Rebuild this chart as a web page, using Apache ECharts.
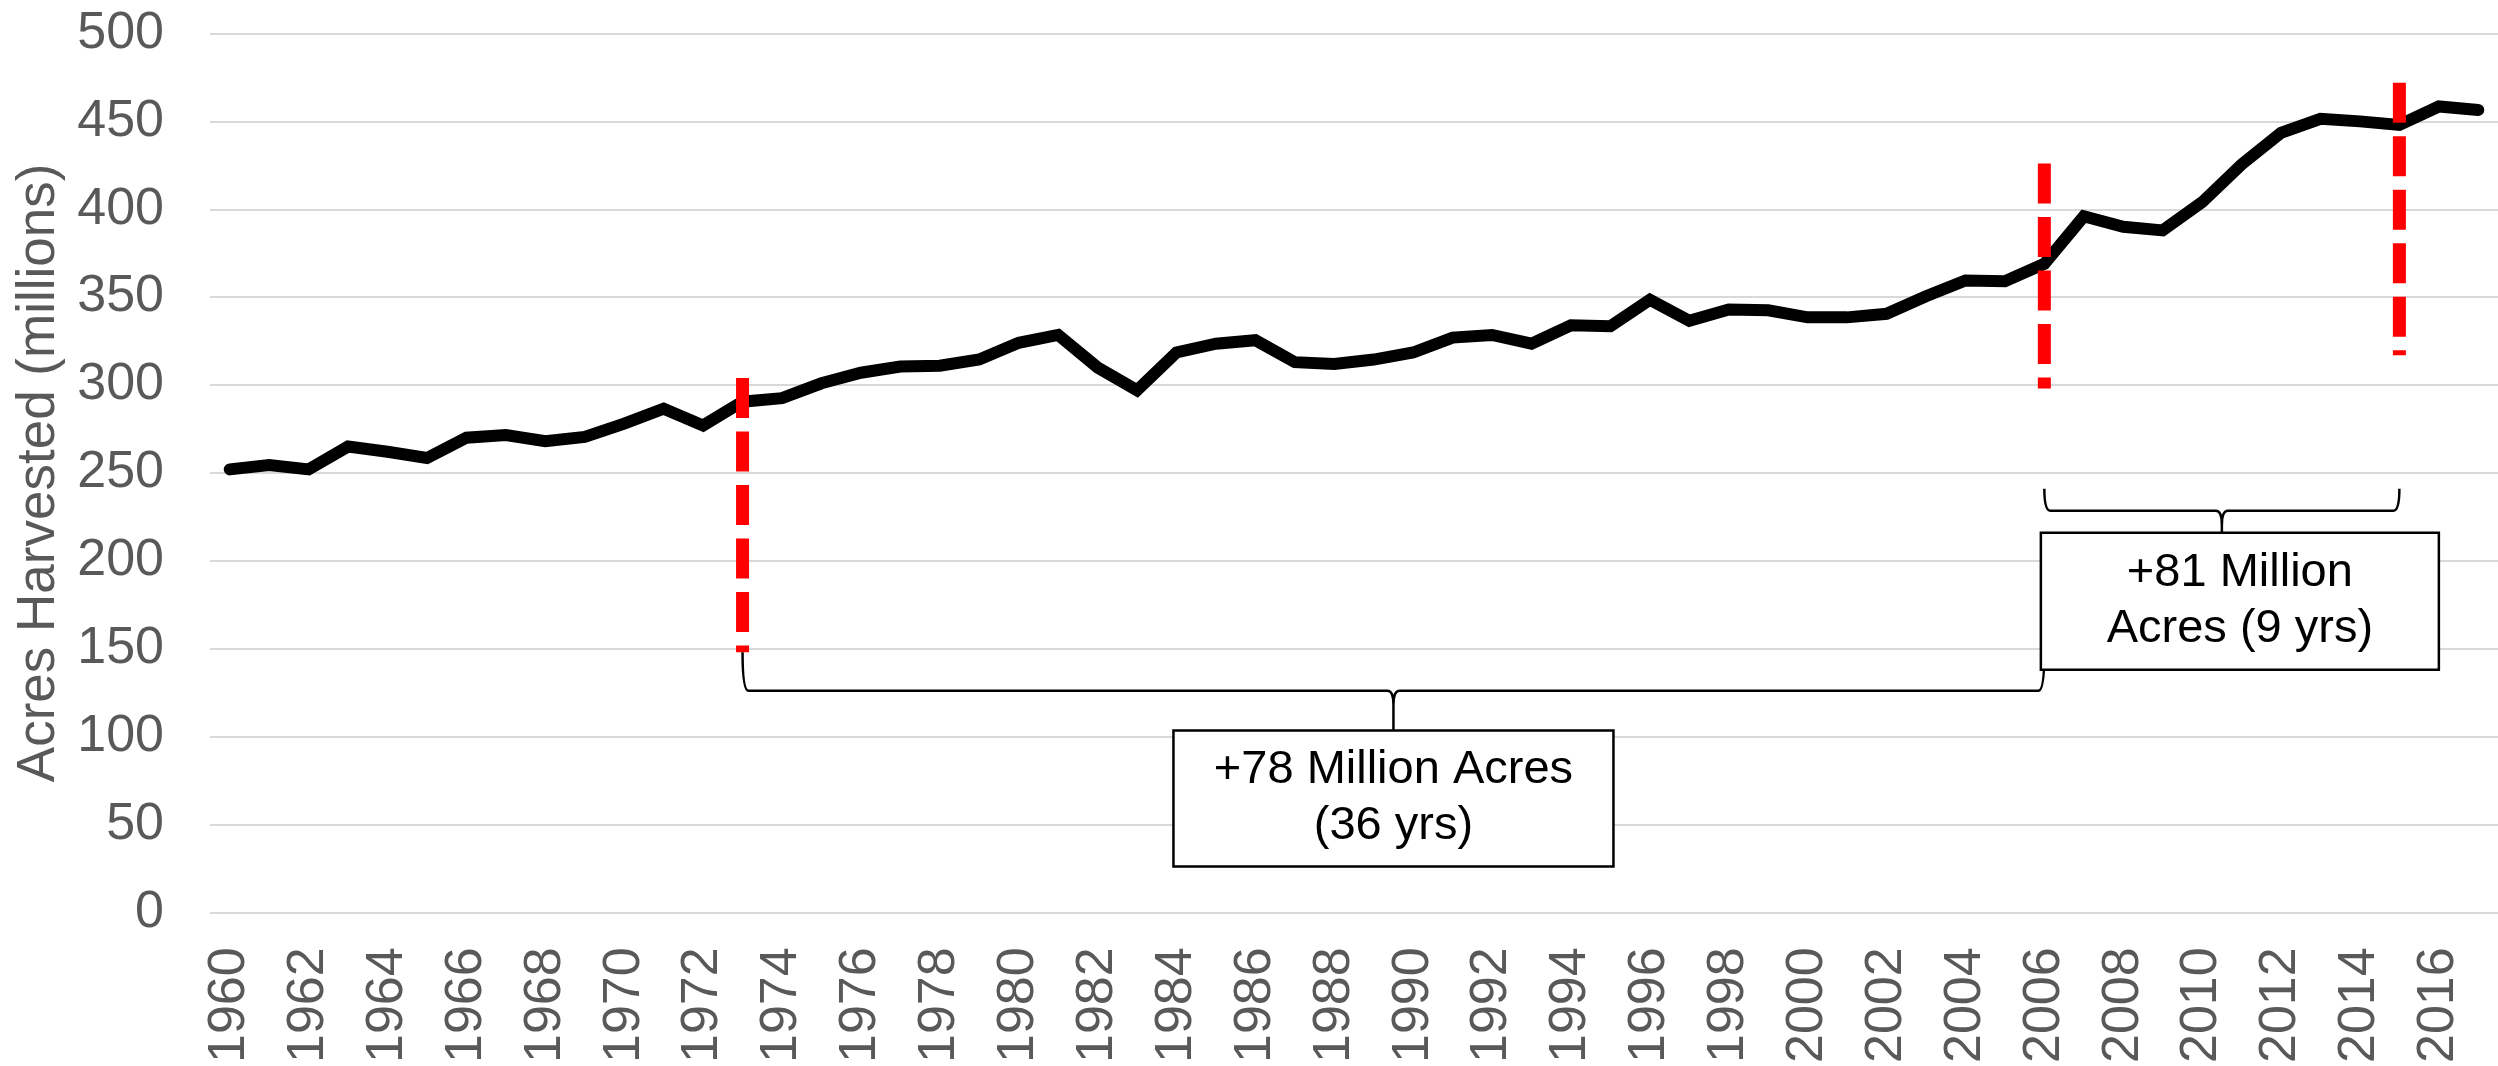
<!DOCTYPE html>
<html>
<head>
<meta charset="utf-8">
<script src="https://cdn.jsdelivr.net/npm/echarts@6/dist/echarts.min.js"></script>
<style>
  html, body { margin: 0; padding: 0; background: #ffffff; }
  #chart { width: 2498px; height: 1066px; }
</style>
</head>
<body>
<div id="chart"></div>
<script>
// Harvested cropland by year, millions of acres
const years = [
  '1960','1961','1962','1963','1964','1965','1966','1967','1968','1969',
  '1970','1971','1972','1973','1974','1975','1976','1977','1978','1979',
  '1980','1981','1982','1983','1984','1985','1986','1987','1988','1989',
  '1990','1991','1992','1993','1994','1995','1996','1997','1998','1999',
  '2000','2001','2002','2003','2004','2005','2006','2007','2008','2009',
  '2010','2011','2012','2013','2014','2015','2016','2017'
];
const acres = [
  252, 254.5, 252, 265, 262, 258.5, 270, 271.5, 268, 270.5,
  278, 286.5, 277, 290.5, 292.5, 301, 307, 310.5, 311, 314.5,
  324, 328.5, 310, 297, 318.5, 323.5, 325.5, 313, 312, 314.5,
  318.5, 327, 328.5, 323.5, 334, 333.5, 348.5, 336.5, 343, 342.5,
  338.5, 338.5, 340.5, 350.5, 359.5, 359, 369, 396, 390, 388,
  404, 425.5, 443.5, 451.5, 450, 448, 458.5, 456.5
];

// Value axis range
const yMin = 0;
const yMax = 500;
const yStep = 50;

// Red dashed marker lines: year, upper and lower end (millions of acres)
const markerYears = ['1973', '2006', '2015'];
const markerTop = [304, 426, 472];
const markerBottom = [148, 298, 317];

// Growth spans with their captions
const spanFrom = ['1973', '2006'];
const spanTo = ['2006', '2015'];
const spanText = ['+78 Million Acres\n(36 yrs)', '+81 Million\nAcres (9 yrs)'];

// Brace and caption-box geometry for each span
const braceLayout = [
  { endV: 148, barV: 126, tipV: 103.5, boxW: 440, boxH: 136, boxDx: 0 },
  { endV: 241, barV: 228.5, tipV: 216, boxW: 398, boxH: 137, boxDx: 18 }
];

const FONT = '"Liberation Sans", Arial, Helvetica, sans-serif';
const GREY = '#595959';

function renderMarker(params, api) {
  const p1 = api.coord([api.value(0), api.value(1)]);
  const p2 = api.coord([api.value(0), api.value(2)]);
  return {
    type: 'line',
    shape: { x1: p1[0], y1: p1[1], x2: p2[0], y2: p2[1] },
    style: { stroke: '#ff0000', lineWidth: 13, lineDash: [40, 13.5], lineCap: 'butt' }
  };
}

function renderSpan(params, api) {
  const i = params.dataIndex;
  const g = braceLayout[i];
  const x1 = api.coord([api.value(0), 0])[0];
  const x2 = api.coord([api.value(1), 0])[0];
  const yEnd = api.coord([api.value(0), g.endV])[1];
  const yBar = api.coord([api.value(0), g.barV])[1];
  const yTip = api.coord([api.value(0), g.tipV])[1];
  const xm = (x1 + x2) / 2;
  const r = 6, c = 14;
  const d =
    'M' + x1 + ',' + yEnd +
    ' Q' + x1 + ',' + yBar + ' ' + (x1 + r) + ',' + yBar +
    ' L' + (xm - r) + ',' + yBar +
    ' Q' + xm + ',' + yBar + ' ' + xm + ',' + (yBar + c) +
    ' L' + xm + ',' + yTip +
    ' M' + xm + ',' + (yBar + c) +
    ' Q' + xm + ',' + yBar + ' ' + (xm + r) + ',' + yBar +
    ' L' + (x2 - r) + ',' + yBar +
    ' Q' + x2 + ',' + yBar + ' ' + x2 + ',' + yEnd;
  const bx = xm + g.boxDx - g.boxW / 2;
  return {
    type: 'group',
    children: [
      { type: 'path', shape: { pathData: d },
        style: { stroke: '#000000', lineWidth: 2.5, fill: 'none' } },
      { type: 'rect', shape: { x: bx, y: yTip, width: g.boxW, height: g.boxH },
        style: { fill: '#ffffff', stroke: '#000000', lineWidth: 2.5 } },
      { type: 'text', x: bx + g.boxW / 2, y: yTip + g.boxH / 2,
        style: { text: spanText[i], fontSize: 47, fontFamily: FONT, fill: '#000000',
                 align: 'center', verticalAlign: 'middle', lineHeight: 56 } }
    ]
  };
}

const chart = echarts.init(document.getElementById('chart'), null, { renderer: 'canvas' });

chart.setOption({
  animation: false,
  backgroundColor: '#ffffff',
  textStyle: { fontFamily: FONT },
  grid: { left: 210, right: 0, top: 33.5, bottom: 150, containLabel: false },
  xAxis: {
    type: 'category',
    data: years,
    boundaryGap: true,
    axisLine: { show: false },
    axisTick: { show: false },
    splitLine: { show: false },
    axisLabel: {
      interval: 1, rotate: 90, margin: 35,
      fontSize: 52, color: GREY, fontFamily: FONT
    }
  },
  yAxis: {
    type: 'value',
    min: yMin, max: yMax, interval: yStep,
    name: 'Acres Harvested (millions)',
    nameLocation: 'middle',
    nameGap: 142,
    nameTextStyle: { fontSize: 53, color: GREY, fontFamily: FONT },
    axisLine: { show: false },
    axisTick: { show: false },
    axisLabel: { margin: 46, fontSize: 52, color: GREY, fontFamily: FONT },
    splitLine: { lineStyle: { color: '#d9d9d9', width: 2 } }
  },
  series: [
    {
      name: 'Acres Harvested',
      type: 'line',
      data: acres,
      symbol: 'none',
      z: 2,
      lineStyle: { color: '#000000', width: 12, cap: 'round', join: 'miter' }
    },
    {
      name: 'markers',
      type: 'custom',
      z: 3,
      silent: true,
      clip: false,
      renderItem: renderMarker,
      encode: { x: 0, y: [1, 2] },
      data: markerYears.map((y, i) => [years.indexOf(y), markerTop[i], markerBottom[i]])
    },
    {
      name: 'spans',
      type: 'custom',
      z: 4,
      silent: true,
      clip: false,
      renderItem: renderSpan,
      encode: { x: [0, 1] },
      data: spanFrom.map((f, i) => [years.indexOf(f), years.indexOf(spanTo[i])])
    }
  ]
});
</script>
</body>
</html>
